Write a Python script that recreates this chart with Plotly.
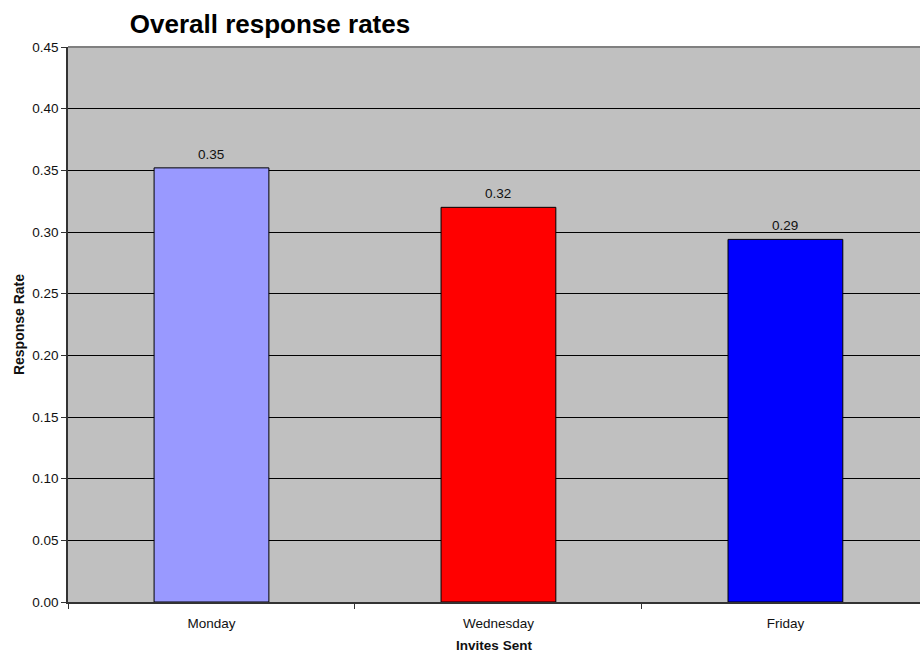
import plotly.graph_objects as go

# Response rate by the weekday the invites were sent
days = ["Monday", "Wednesday", "Friday"]
response_rate = [0.352, 0.320, 0.294]
bar_colors = ["#9999FF", "#FF0000", "#0000FF"]
y_ticks = [0.00, 0.05, 0.10, 0.15, 0.20, 0.25, 0.30, 0.35, 0.40, 0.45]

font_family = "Liberation Sans, Arial, sans-serif"
text_size = 13.5

fig = go.Figure(
    go.Bar(
        x=days,
        y=response_rate,
        marker=dict(color=bar_colors, line=dict(color="black", width=1)),
        width=0.4,
        cliponaxis=False,
    )
)

# value labels above each bar
for day, rate in zip(days, response_rate):
    fig.add_annotation(
        x=day, y=rate, xref="x", yref="y",
        text=f"{rate:.2f}",
        showarrow=False,
        yanchor="bottom",
        yshift=4,
        font=dict(family=font_family, size=text_size, color="#111111"),
    )

fig.update_layout(
    width=920,
    height=656,
    margin=dict(l=68, r=0, t=47, b=54),
    paper_bgcolor="white",
    plot_bgcolor="#C0C0C0",
    showlegend=False,
    title=dict(
        text="<b>Overall response rates</b>",
        font=dict(family=font_family, size=26, color="black"),
        x=270 / 920,
        xanchor="center",
        y=1 - 24 / 656,
        yanchor="middle",
    ),
    xaxis=dict(
        range=[-0.5, 2.469],
        tickson="boundaries",
        ticks="outside",
        ticklen=5,
        tickcolor="#333333",
        ticklabelstandoff=8,
        showline=True,
        linecolor="#333333",
        linewidth=1.5,
        showgrid=False,
        tickfont=dict(family=font_family, size=text_size, color="#111111"),
        title=dict(
            text="<b>Invites Sent</b>",
            font=dict(family=font_family, size=text_size, color="#111111"),
            standoff=11,
        ),
    ),
    yaxis=dict(
        range=[0, 0.45],
        tickvals=y_ticks,
        tickformat=".2f",
        ticks="outside",
        ticklen=5,
        tickcolor="#333333",
        showline=True,
        linecolor="#333333",
        linewidth=1.5,
        showgrid=True,
        gridcolor="black",
        gridwidth=1,
        zeroline=False,
        tickfont=dict(family=font_family, size=text_size, color="#111111"),
        title=dict(
            text="<b>Response Rate</b>",
            font=dict(family=font_family, size=14, color="#111111"),
            standoff=4,
        ),
    ),
)

# grey top edge of the plotting area
fig.add_shape(
    type="line", xref="paper", yref="paper",
    x0=0, x1=1, y0=1, y1=1,
    line=dict(color="#808080", width=2),
)

fig.write_html("out.html")
